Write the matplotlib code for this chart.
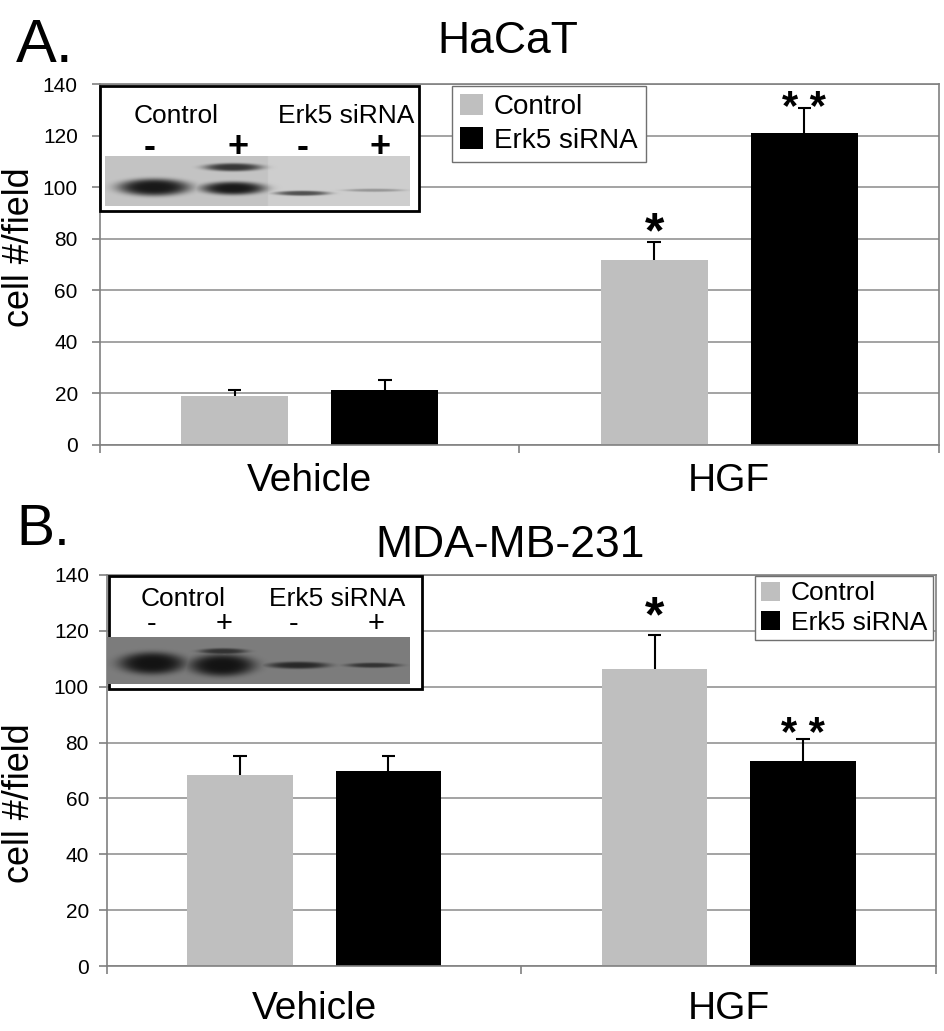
import matplotlib.pyplot as plt
import numpy as np
from matplotlib.patches import Rectangle

plt.rcParams['font.family'] = ['Liberation Sans', 'DejaVu Sans']

# data
groups = ['Vehicle', 'HGF']
series = ['Control', 'Erk5 siRNA']
colors = ['#bfbfbf', '#000000']

hacat_mean = [[19.0, 71.7], [21.3, 121.0]]
hacat_err = [[2.3, 7.0], [3.9, 9.7]]
mda_mean = [[68.5, 106.5], [69.9, 73.5]]
mda_err = [[6.8, 12.1], [5.4, 7.9]]

hacat_stars = [['', '*'], ['', '* *']]
mda_stars = [['', '*'], ['', '* *']]

W, H = 945, 1031
fig = plt.figure(figsize=(W / 100, H / 100), dpi=100)


def px_axes(l, t, r, b):
    return fig.add_axes([l / W, 1 - b / H, (r - l) / W, (b - t) / H])


def bar_panel(ax, means, errs, stars, star_gap, lab_pad, tick_pad):
    width = 0.255
    offs = [-0.179, 0.179]
    cap = 0.016
    x = np.arange(len(groups))
    for i, name in enumerate(series):
        xs = x + offs[i]
        top = np.array(means[i]) + np.array(errs[i])
        ax.bar(xs, means[i], width, color=colors[i], label=name, zorder=2)
        # one-sided error bars, cap only at the top
        ax.vlines(xs, means[i], top, color='black', linewidth=1.5, zorder=3)
        ax.hlines(top, xs - cap, xs + cap, color='black', linewidth=1.5, zorder=3)
        for j in range(len(x)):
            if stars[i][j]:
                fs = 36 if stars[i][j] == '*' else 30
                ax.annotate(stars[i][j], (xs[j], top[j]),
                            xytext=(0, star_gap[i]), textcoords='offset points',
                            ha='center', va='bottom', fontsize=fs, fontweight='bold')
    ax.set_xlim(-0.5, 1.5)
    ax.set_ylim(0, 140)
    ax.set_yticks(range(0, 141, 20))
    ax.set_xticks([-0.5, 0.5, 1.5])
    ax.set_xticklabels([])
    ax.set_xticks(x, minor=True)
    ax.set_xticklabels(groups, minor=True, fontsize=28)
    ax.tick_params(axis='x', which='minor', length=0, pad=lab_pad)
    ax.tick_params(axis='x', which='major', length=6, color='#808080', width=1.2)
    ax.tick_params(axis='y', length=6, color='#808080', width=1.2, labelsize=15, pad=tick_pad)
    ax.grid(axis='y', color='#8a8a8a', linewidth=1.1)
    ax.set_axisbelow(True)
    for s in ax.spines.values():
        s.set_color('#808080')
        s.set_linewidth(1.2)


axA = px_axes(100, 84, 939, 445)
bar_panel(axA, hacat_mean, hacat_err, hacat_stars, [-11, -15], 13, 10)
axA.legend(loc='upper left', bbox_to_anchor=(0.4195, 0.995), borderaxespad=0, fontsize=20,
           fancybox=False, edgecolor='#707070', framealpha=1, handlelength=0.8,
           handleheight=0.8, handletextpad=0.4, borderpad=0.3, labelspacing=0.25)

axB = px_axes(107, 575, 936, 966)
bar_panel(axB, mda_mean, mda_err, mda_stars, [-5, -12], 18, 7)
axB.legend(loc='upper right', bbox_to_anchor=(0.996, 0.997), borderaxespad=0, fontsize=19,
           fancybox=False, edgecolor='#707070', framealpha=1, handlelength=0.75,
           handleheight=0.75, handletextpad=0.4, borderpad=0.2, labelspacing=0.2)

# overlay in figure pixels for labels and western blot insets
ov = fig.add_axes([0, 0, 1, 1])
ov.set_xlim(0, W)
ov.set_ylim(H, 0)
ov.axis('off')

ov.text(16, 62, 'A.', fontsize=44, ha='left', va='baseline')
ov.text(16, 545, 'B.', fontsize=41, ha='left', va='baseline')
ov.text(508, 53, 'HaCaT', fontsize=32, ha='center', va='baseline')
ov.text(510, 557, 'MDA-MB-231', fontsize=32, ha='center', va='baseline')
ov.text(20, 247, 'cell #/field', fontsize=26, rotation=90, ha='center', va='center')
ov.text(20, 803, 'cell #/field', fontsize=26, rotation=90, ha='center', va='center')


def blot(box, area, bgs, bands, labels, signs, sign_y, sign_fs, sign_w):
    bx0, by0, bx1, by1 = box
    ov.add_patch(Rectangle((bx0, by0), bx1 - bx0, by1 - by0, facecolor='white',
                           edgecolor='black', linewidth=2, zorder=4))
    x0, y0, x1, y1 = area
    X, Y = np.meshgrid(np.arange(x0, x1, 0.5), np.arange(y0, y1, 0.5))
    img = np.zeros_like(X)
    for sx0, sx1, val in bgs:
        img[(X >= sx0) & (X < sx1)] = val
    base = img.copy()
    f = np.zeros_like(X)
    dark = np.full_like(X, 255.0)
    for cx, cy, a, b, d in bands:
        g = np.exp(-(((X - cx) / a) ** 2 + ((Y - cy) / b) ** 2) ** 2)
        upd = g > f
        dark[upd] = d
        f = np.maximum(f, g)
    img = base - (base - dark) * f
    ov.imshow(img, cmap='gray', vmin=0, vmax=255, extent=(x0, x1, y1, y0),
              aspect='auto', interpolation='bilinear', zorder=5)
    for txt, cx, cy in labels:
        ov.text(cx, cy, txt, fontsize=19, ha='center', va='center', zorder=6)
    for s, cx in signs:
        ov.text(cx, sign_y, s, fontsize=sign_fs, fontweight=sign_w, ha='center',
                va='center', zorder=6)


blot((100, 86, 419, 211), (105, 156, 410, 206),
     [(105, 268, 196), (268, 410, 206)],
     [(154, 187, 36, 8.5, 25), (233, 188, 32, 6.5, 25), (233, 167, 29, 4, 55),
      (302, 193, 27, 2.5, 80), (374, 190, 30, 1.6, 150)],
     [('Control', 176, 116), ('Erk5 siRNA', 346, 116)],
     [('-', 150), ('+', 238), ('-', 303), ('+', 380)], 147, 26, 'bold')

blot((109, 576, 422, 689), (107, 637, 410, 684),
     [(107, 410, 125)],
     [(152, 663, 33, 11, 20), (222, 665, 33, 11, 20), (223, 651, 24, 3, 50),
      (298, 665, 31, 3.5, 40), (373, 665, 27, 2.5, 50)],
     [('Control', 183, 599), ('Erk5 siRNA', 337, 599)],
     [('-', 152), ('+', 224), ('-', 294), ('+', 376)], 624, 21, 'normal')

fig.savefig('out.png', dpi=100)
